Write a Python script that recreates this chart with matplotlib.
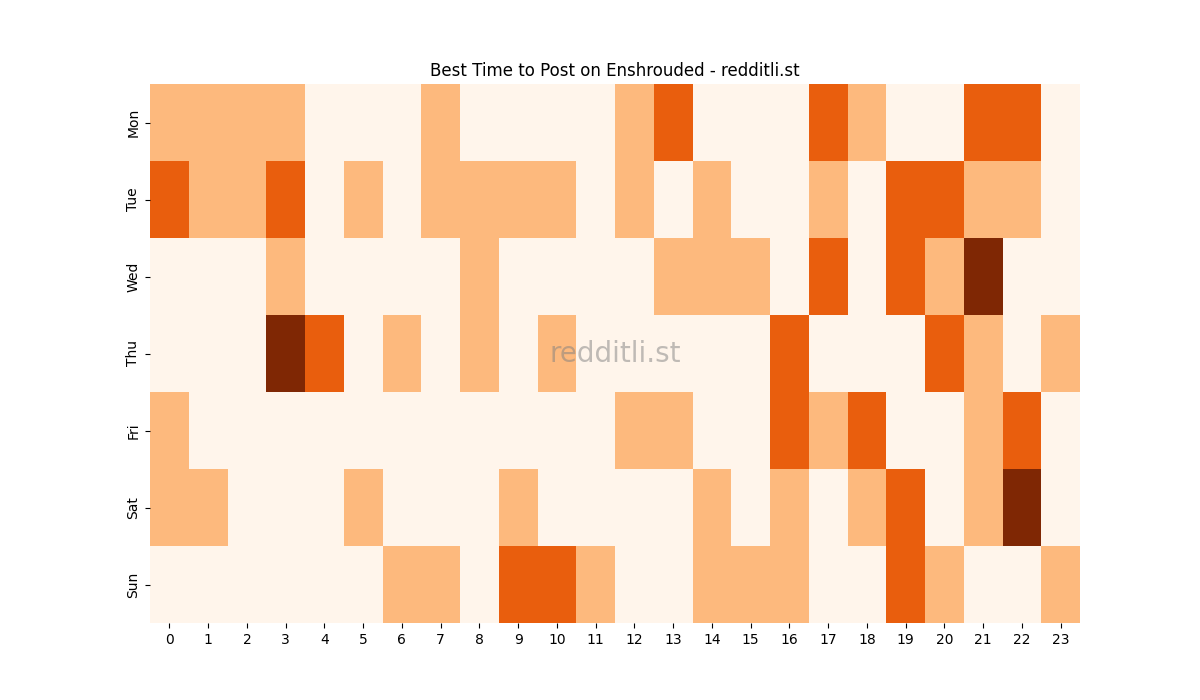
import numpy as np
import matplotlib
matplotlib.use("Agg")
import matplotlib.pyplot as plt
import seaborn as sns

# Días y horas
days = ["Mon", "Tue", "Wed", "Thu", "Fri", "Sat", "Sun"]
hours = list(range(24))

# Niveles por día (0-3)
mon = [1, 1, 1, 1, 0, 0, 0, 1, 0, 0, 0, 0, 1, 2, 0, 0, 0, 2, 1, 0, 0, 2, 2, 0]
tue = [2, 1, 1, 2, 0, 1, 0, 1, 1, 1, 1, 0, 1, 0, 1, 0, 0, 1, 0, 2, 2, 1, 1, 0]
wed = [0, 0, 0, 1, 0, 0, 0, 0, 1, 0, 0, 0, 0, 1, 1, 1, 0, 2, 0, 2, 1, 3, 0, 0]
thu = [0, 0, 0, 3, 2, 0, 1, 0, 1, 0, 1, 0, 0, 0, 0, 0, 2, 0, 0, 0, 2, 1, 0, 1]
fri = [1, 0, 0, 0, 0, 0, 0, 0, 0, 0, 0, 0, 1, 1, 0, 0, 2, 1, 2, 0, 0, 1, 2, 0]
sat = [1, 1, 0, 0, 0, 1, 0, 0, 0, 1, 0, 0, 0, 0, 1, 0, 1, 0, 1, 2, 0, 1, 3, 0]
sun = [0, 0, 0, 0, 0, 0, 1, 1, 0, 2, 2, 1, 0, 0, 1, 1, 1, 0, 0, 2, 1, 0, 0, 1]

data = np.array([mon, tue, wed, thu, fri, sat, sun], dtype=float)

fig, ax = plt.subplots(figsize=(12, 7), dpi=100)
sns.heatmap(data, ax=ax, cmap="Oranges", vmin=0, vmax=3, cbar=False,
            xticklabels=hours, yticklabels=days)
ax.set_yticklabels(days, rotation=90, va="center")
ax.set_xticklabels(hours, rotation=0)
ax.set_title("Best Time to Post on Enshrouded - redditli.st")

# Marca de agua
ax.text(0.5, 0.5, "redditli.st", transform=ax.transAxes, fontsize=20,
        color="gray", alpha=0.5, ha="center", va="center")

plt.savefig("out.png")
